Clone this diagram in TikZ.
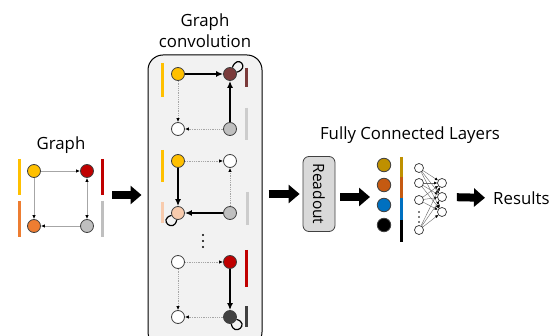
\documentclass[tikz,border=0pt]{standalone}
\usepackage{fontspec}
\setmainfont{Open Sans}
\usetikzlibrary{arrows.meta,positioning,calc}
\definecolor{cyel}{HTML}{FFC000}
\definecolor{cred}{HTML}{C00000}
\definecolor{corg}{HTML}{ED7D31}
\definecolor{cgry}{HTML}{BFBFBF}
\definecolor{cmar}{HTML}{7B3B3B}
\definecolor{cpch}{HTML}{F8CBAD}
\definecolor{cdrk}{HTML}{404040}
\definecolor{cgold}{HTML}{BF9000}
\definecolor{cbrn}{HTML}{C55A11}
\definecolor{cblu}{HTML}{0070C0}
\tikzset{
  vtx/.style={circle, draw=black!75, line width=0.8pt, minimum size=13pt, inner sep=0pt},
  nnv/.style={circle, draw=black!80, line width=0.7pt, fill=white, minimum size=9pt, inner sep=0pt},
  cbar/.style={line width=3pt},
  glink/.style={draw=black!35, line width=0.8pt},
  dlink/.style={draw=black!35, densely dotted, line width=0.8pt},
  slink/.style={line width=2pt, -{Latex[length=7pt,width=6pt]}},
  selfloop/.style={line width=1.2pt},
  bigarrow/.style={line width=8pt, -{Triangle[length=11pt,width=18pt]}},
  lbl/.style={font=\fontsize{16.8}{21}\selectfont, align=center, inner sep=0pt}
}
\begin{document}
\begin{tikzpicture}[x=1pt, y=-1pt, >={Latex[length=4pt,width=3.5pt,color=black]}]
\clip (0,0) rectangle (556,336);
\fill[white] (0,0) rectangle (556,336);

\node[lbl] (glbl) at (61,145) {Graph};
\node[vtx, fill=cyel] (ga) at (34,171) {};
\node[vtx, fill=cred] (gb) at (87,171) {};
\node[vtx, fill=corg] (gc) at (34,226) {};
\node[vtx, fill=cgry] (gd) at (87,226) {};
\draw[cbar, cyel] (19,159) -- (19,195);
\draw[cbar, corg] (19,201) -- (19,237);
\draw[cbar, cred] (102,159) -- (102,195);
\draw[cbar, cgry] (102,201) -- (102,237);
\draw[glink, ->] (ga) -- (gb);
\draw[glink, ->] (ga) -- (gc);
\draw[glink, ->] (gd) -- (gc);
\draw[glink, <->] (gd) -- (gb);

\node[lbl] (clbl) at (205,31) {Graph\\convolution};
\node[draw=black, line width=1pt, fill=black!5, rounded corners=15pt, minimum width=114pt, minimum height=292pt] (conv) at (205,201) {};
\coordinate (a1) at (112,195);
\draw[bigarrow, shorten >=6pt] (a1) -- (conv.west |- a1);

\node[vtx, fill=cyel] (ta) at (178,74) {};
\node[vtx, fill=cmar] (tb) at (230,74) {};
\node[vtx, fill=white] (tc) at (178,129) {};
\node[vtx, fill=cgry] (td) at (230,129) {};
\draw[cbar, cyel] (162,63) -- (162,97);
\draw[cbar, cmar] (246,68) -- (246,87);
\draw[cbar, cgry!80] (246,108) -- (246,140);
\draw[slink] (ta) -- (tb);
\draw[slink] (td) -- (tb);
\draw[dlink, ->] (ta) -- (tc);
\draw[dlink, ->] (td) -- (tc);
\draw[selfloop] (tb.70) .. controls +(5,-14) and +(14,-4) .. (tb.15);

\node[vtx, fill=cyel] (ma) at (178,161) {};
\node[vtx, fill=white] (mb) at (230,161) {};
\node[vtx, fill=cpch] (mc) at (178,213) {};
\node[vtx, fill=cgry] (md) at (230,213) {};
\draw[cbar, cyel] (162,150) -- (162,182);
\draw[cbar, cpch] (162,202) -- (162,223);
\draw[cbar, cgry!80] (247,192) -- (247,225);
\draw[slink] (ma) -- (mc);
\draw[slink] (md) -- (mc);
\draw[dlink, ->] (ma) -- (mb);
\draw[dlink, ->] (md) -- (mb);
\draw[selfloop] (mc.260) .. controls +(-3,14) and +(-14,4) .. (mc.200);

\foreach \y in {235,241,247}
  \fill (203,\y) circle (1.1pt);

\node[vtx, fill=white] (ba) at (178,262) {};
\node[vtx, fill=cred] (bb) at (230,262) {};
\node[vtx, fill=white] (bc) at (178,317) {};
\node[vtx, fill=cdrk] (bd) at (230,317) {};
\draw[cbar, cred] (246,250) -- (246,287);
\draw[cbar, cdrk] (246,306) -- (246,327);
\draw[dlink, ->] (ba) -- (bb);
\draw[slink] (bb) -- (bd);
\draw[dlink, ->] (ba) -- (bc);
\draw[dlink, ->] (bd) -- (bc);
\draw[selfloop] (bd.-80) .. controls +(3,14) and +(14,4) .. (bd.-20);

\node[draw=black!75, line width=0.8pt, fill=black!15, rounded corners=6pt, rotate=-90, minimum width=75pt, minimum height=32pt, font=\fontsize{15.5}{18}\selectfont] (ro) at (319,194) {Readout};
\draw[bigarrow, shorten <=6pt, shorten >=3pt] (conv.east |- ro.center) -- (ro.south);

\node[lbl] (flbl) at (410,135) {Fully Connected Layers};
\node[vtx, fill=cgold, minimum size=13.5pt] (f1) at (384,165) {};
\node[vtx, fill=cbrn, minimum size=13.5pt] (f2) at (384,185) {};
\node[vtx, fill=cblu, minimum size=13.5pt] (f3) at (384,205) {};
\node[vtx, fill=black, minimum size=13.5pt] (f4) at (384,225) {};
\draw[cbar, cgold] (401,157) -- (401,177);
\draw[cbar, cbrn] (401,177) -- (401,198);
\draw[cbar, cblu] (401,198) -- (401,220);
\draw[cbar, black] (401,220) -- (401,242);
\coordinate (a3) at (370,197);
\draw[bigarrow, shorten <=5pt] (ro.north |- a3) -- (a3);

\node[nnv] (n1) at (419,168) {};
\node[nnv] (n2) at (419,183) {};
\node[nnv] (n3) at (419,200) {};
\node[nnv] (n4) at (419,230) {};
\node[nnv] (o1) at (442,183) {};
\node[nnv] (o2) at (442,197) {};
\node[nnv] (o3) at (442,212) {};
\foreach \i in {1,...,4}
  \foreach \j in {1,2,3}
    \draw[draw=black!60, line width=0.4pt, -{Latex[length=3pt,width=3pt,color=black]}] (n\i) -- (o\j);
\foreach \y in {212,217,222}
  \fill (419,\y) circle (0.9pt);

\node[lbl, anchor=west] (res) at (493,198) {Results};
\draw[bigarrow, shorten <=10pt, shorten >=8pt] (o2.east) -- (res.west);
\end{tikzpicture}
\end{document}
